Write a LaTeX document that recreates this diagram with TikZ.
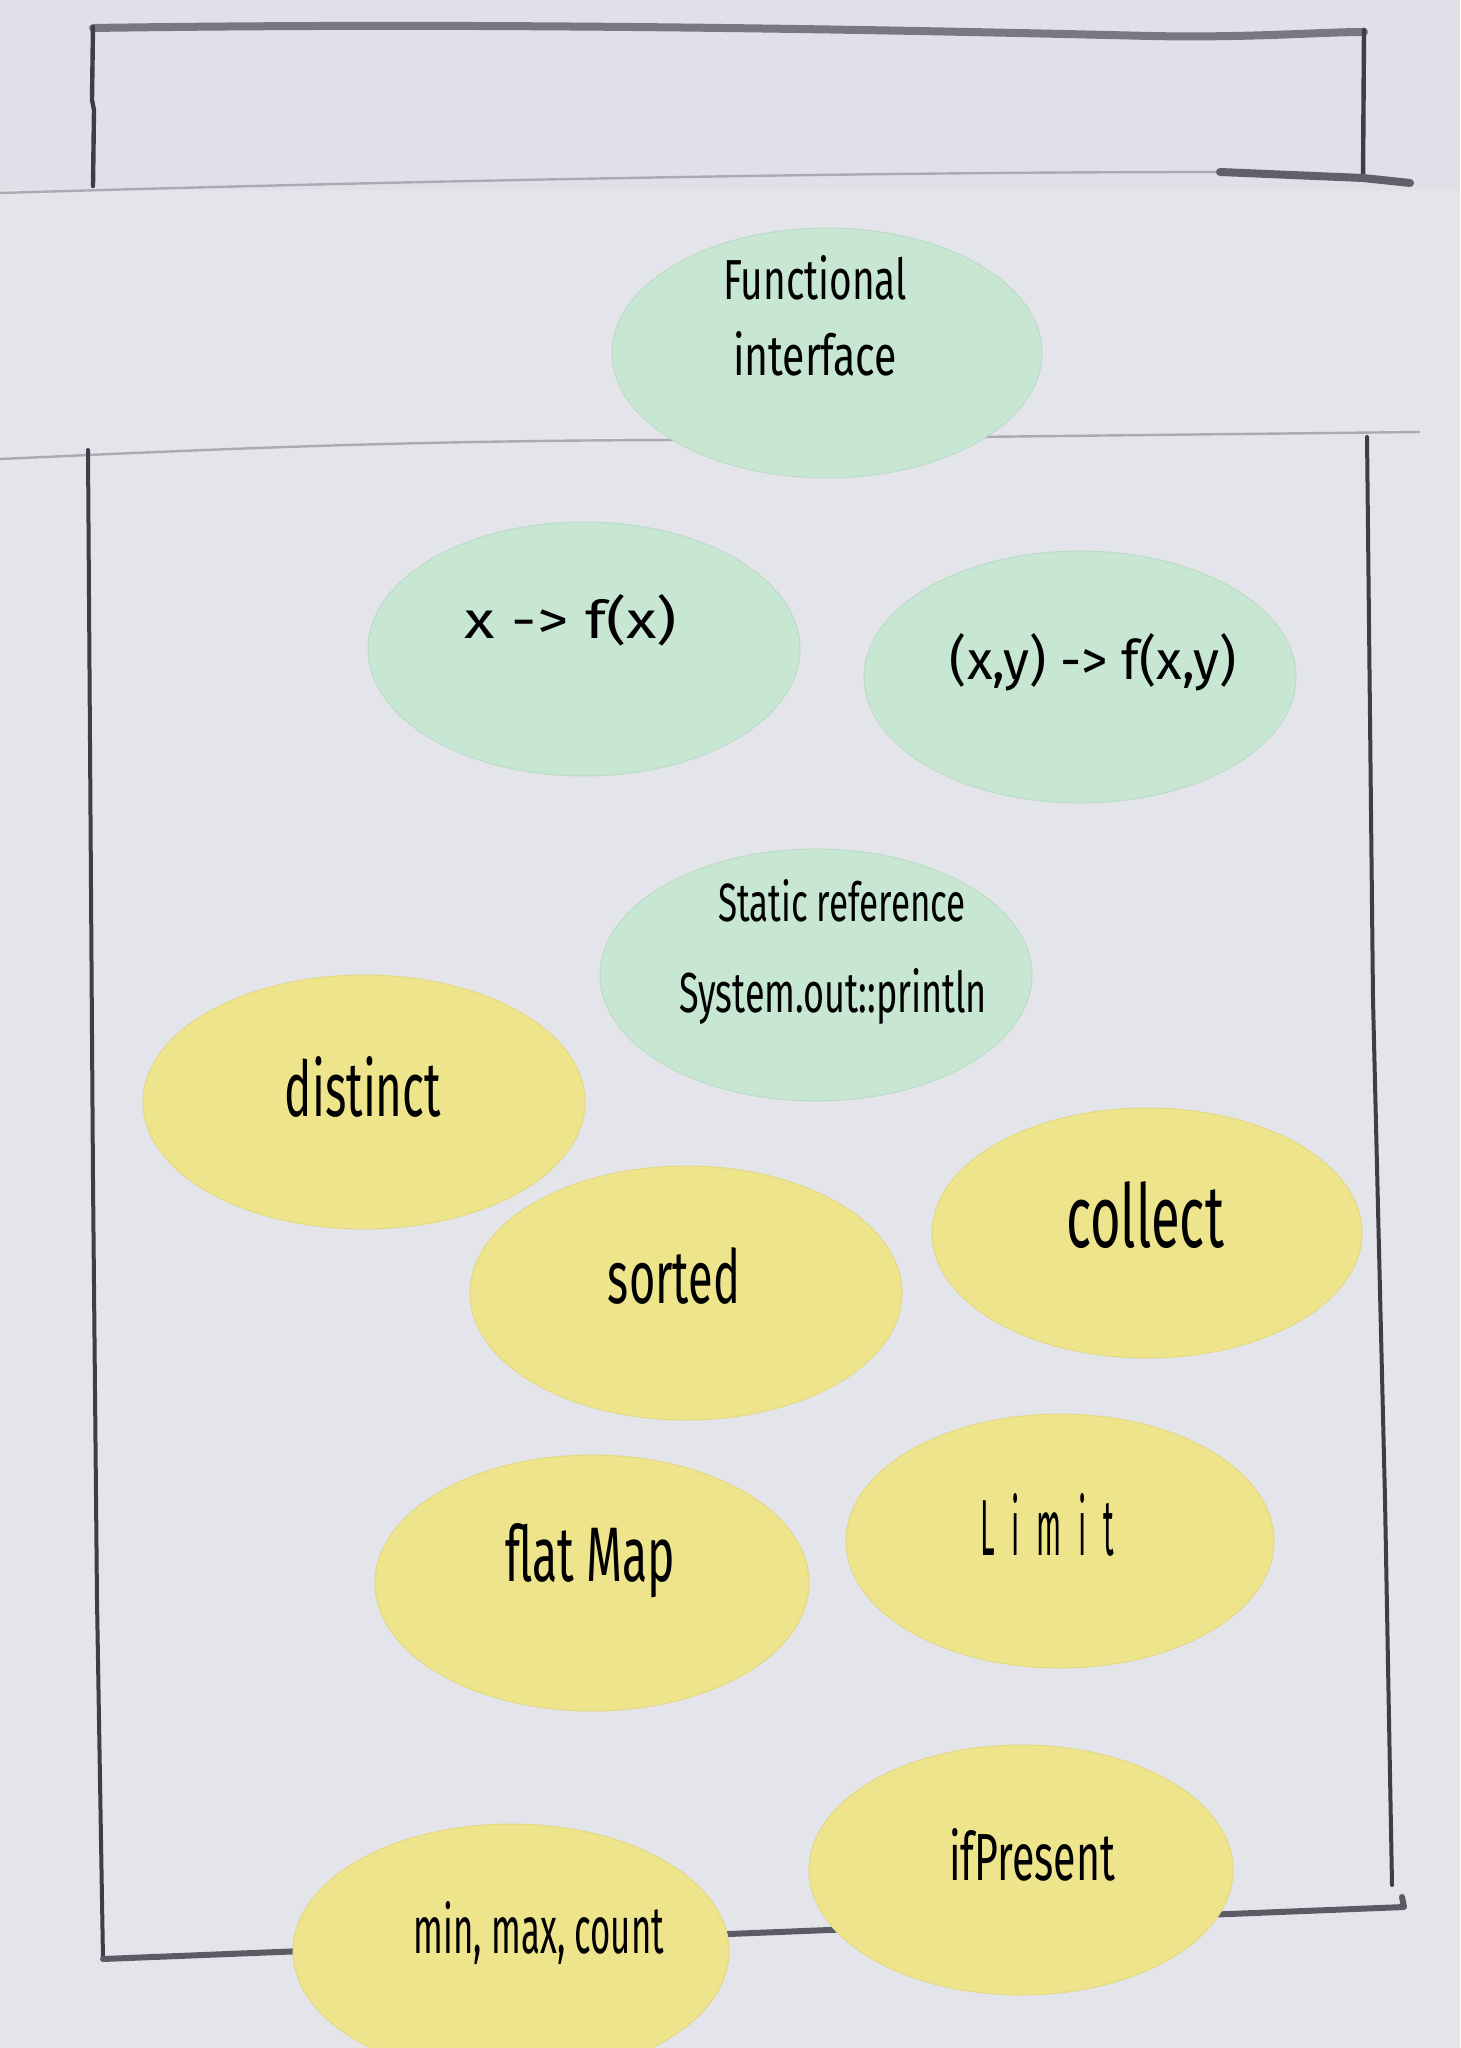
\documentclass[tikz,border=0pt]{standalone}
\usepackage{fontspec}
\usepackage{graphicx}
\usetikzlibrary{shapes.geometric}
\newfontfamily\hand[FakeStretch=0.7]{Fira Sans}
\newcommand\hw[3]{\resizebox{#1pt}{#2pt}{\hand #3}}
\definecolor{paper}{RGB}{228,229,235}
\definecolor{paperb}{RGB}{224,225,232}
\definecolor{gcol}{RGB}{199,231,211}
\definecolor{ycol}{RGB}{238,228,140}
\definecolor{pen}{RGB}{62,62,74}
\definecolor{pencil}{RGB}{120,120,130}
\definecolor{faint}{RGB}{170,170,180}
\tikzset{
  gblob/.style={ellipse, fill=gcol, draw=gcol!95!black, line width=0.5pt, inner sep=0pt},
  yblob/.style={ellipse, fill=ycol, draw=ycol!95!black, line width=0.5pt, inner sep=0pt},
  txt/.style={inner sep=0pt, text=black},
  penline/.style={draw=pen, line width=2.2pt, line cap=round, line join=round},
  pencilline/.style={draw=pencil, line width=4pt, line cap=round},
  edge/.style={draw=faint, line width=1.2pt},
}
\begin{document}
\begin{tikzpicture}[x=0.5pt, y=-0.5pt]
\fill[paper] (0,0) rectangle (1460,2048);
\useasboundingbox (0,0) rectangle (1460,2048);
\fill[paperb] (0,0) rectangle (1460,190);
% top rectangle
\draw[pencilline] (93,28) .. controls (500,22) and (900,30) .. (1150,36) .. controls (1250,38) and (1320,32) .. (1364,32);
\draw[penline] (93,27) -- (92,100) -- (94,110) -- (93,186);
\draw[penline] (1364,30) -- (1363,178);
\draw[edge] (0,193) .. controls (300,184) and (800,172) .. (1220,172);
\draw[draw=pencil!80!black, line width=4pt, line cap=round] (1220,172) -- (1363,178) -- (1410,183);
% lower rectangle
\draw[edge] (0,459) .. controls (200,450) and (400,440) .. (700,440) -- (1420,432);
\draw[penline, line width=2pt] (88,450) -- (93,1180) -- (97,1600) -- (103,1959);
\draw[penline, line width=2pt] (1367,437) -- (1373,1000) -- (1385,1500) -- (1392,1885);
\draw[draw=pen!85!white, line width=3pt, line cap=round, line join=round] (103,1959) -- (1404,1907) -- (1402,1897);
% green ellipses
\node[gblob, minimum width=215pt, minimum height=125pt] (fi) at (827,353) {};
\node[gblob, minimum width=216pt, minimum height=127pt] (fx) at (584,649) {};
\node[gblob, minimum width=216pt, minimum height=126pt] (fxy) at (1080,677) {};
\node[gblob, minimum width=216pt, minimum height=126pt] (sr) at (816,975) {};
% yellow ellipses
\node[yblob, minimum width=221pt, minimum height=127pt] (dis) at (364,1102) {};
\node[yblob, minimum width=216pt, minimum height=127pt] (sor) at (686,1293) {};
\node[yblob, minimum width=215pt, minimum height=125pt] (col) at (1147,1233) {};
\node[yblob, minimum width=217pt, minimum height=128pt] (fm) at (592,1583) {};
\node[yblob, minimum width=214pt, minimum height=127pt] (lim) at (1060,1541) {};
\node[yblob, minimum width=212pt, minimum height=125pt] (ifp) at (1021,1870) {};
\node[yblob, minimum width=218pt, minimum height=127pt] (mmc) at (511,1951) {};
% labels
\node[txt] (t1) at (815,278) {\hw{92}{22}{Functional}};
\node[txt] (t2) at (815,354) {\hw{82}{22}{interface}};
\node[txt] (t3) at (571,620) {\hw{106}{22}{x -> f(x)}};
\node[txt] (t4) at (1093,662) {\hw{143}{23}{(x,y) -> f(x,y)}};
\node[txt] (t5) at (842,901) {\hw{124}{21}{Static reference}};
\node[txt] (t6) at (833,996) {\hw{154}{22}{System.out::println}};
\node[txt] (t7) at (363,1087) {\hw{78}{30}{distinct}};
\node[txt] (t8) at (674,1276) {\hw{66}{28}{sorted}};
\node[txt] (t9) at (1145,1215) {\hw{79}{33}{collect}};
\node[txt] (t10) at (590,1561) {\hw{85}{29}{flat Map}};
\node[txt] (t11) at (1047,1525) {\hw{67}{31}{\addfontfeature{LetterSpace=40}Limit}};
\node[txt] (t12) at (1032,1855) {\hw{83}{26}{ifPresent}};
\node[txt] (t13) at (539,1933) {\hw{125}{26}{min, max, count}};
\end{tikzpicture}
\end{document}
